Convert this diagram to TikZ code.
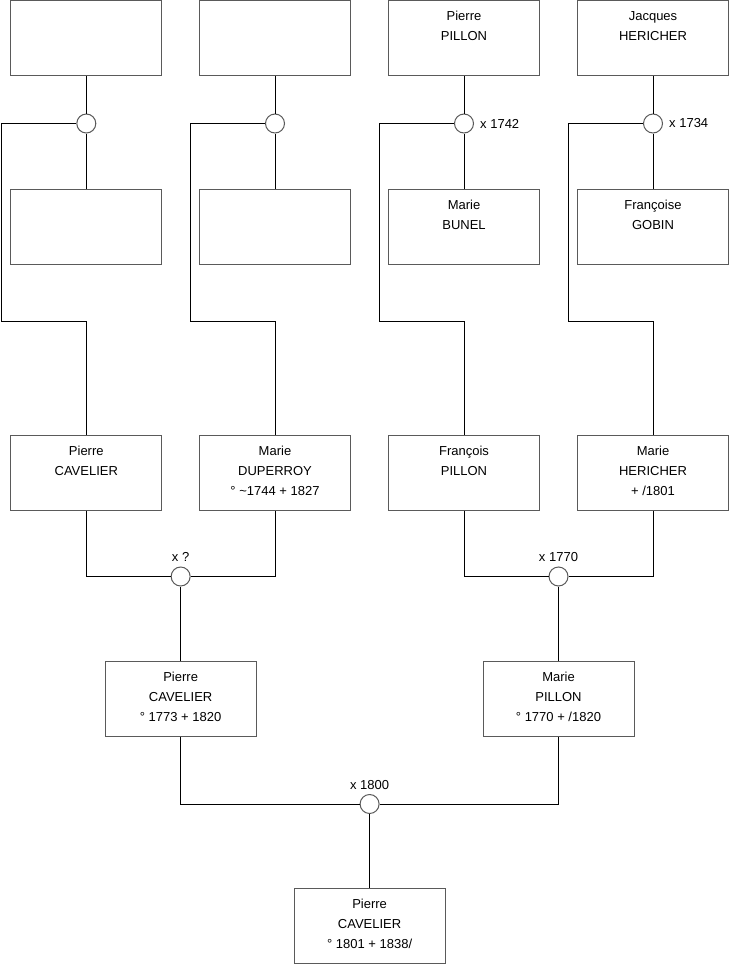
\documentclass[tikz,border=0pt]{standalone}
\usepackage{fontspec}
\setmainfont{Liberation Sans}
\definecolor{boxline}{RGB}{90,90,90}
\tikzset{
  person/.style={draw=boxline,line width=1pt,minimum width=151pt,minimum height=75pt,inner sep=0pt},
  wed/.style={circle,draw=boxline,line width=1pt,fill=white,minimum size=19pt,inner sep=0pt},
  who/.style={anchor=north,yshift=-11pt,align=center,inner sep=0pt,font=\fontsize{13}{20}\selectfont},
  when/.style={inner sep=0pt,font=\fontsize{13}{16}\selectfont},
  link/.style={line width=1pt}
}
\begin{document}
\begin{tikzpicture}[x=1pt,y=-1pt]
\useasboundingbox (0,0) rectangle (740,975);
% great-grandparents, their weddings and the lanes down to the grandparents
\foreach\i/\x in{1/86.3,2/275,3/464,4/653}{
  \node[person] (t\i) at (\x,38) {};
  \node[wed] (m\i) at (\x,123.5) {};
  \node[person] (s\i) at (\x,227) {};
  \node[person] (c\i) at (\x,472.5) {};
  \coordinate (k\i) at (\x-84.6,321.7);
}
\node[who] (t3x) at (t3.north) {Pierre\\PILLON};
\node[who] (t4x) at (t4.north) {Jacques\\HERICHER};
\node[who] (s3x) at (s3.north) {Marie\\BUNEL};
\node[who] (s4x) at (s4.north) {Françoise\\GOBIN};
\node[when,anchor=west] (m3x) at ([xshift=6pt]m3.east) {x 1742};
\node[when,anchor=west] (m4x) at ([xshift=6pt]m4.east) {x 1734};
% grandparents
\node[who] (c1x) at (c1.north) {Pierre\\CAVELIER};
\node[who] (c2x) at (c2.north) {Marie\\DUPERROY\\° \textasciitilde1744 + 1827};
\node[who] (c3x) at (c3.north) {François\\PILLON};
\node[who] (c4x) at (c4.north) {Marie\\HERICHER\\+ /1801};
\node[wed] (mc1) at (180.65,576.5) {};
\node[wed] (mc2) at (558.5,576.5) {};
\node[when,anchor=south] (mc1x) at ([yshift=4.5pt]mc1.north) {x ?};
\node[when,anchor=south] (mc2x) at ([yshift=4.5pt]mc2.north) {x 1770};
% parents
\node[person] (d1) at (180.65,698.5) {};
\node[person] (d2) at (558.5,698.5) {};
\node[who] (d1x) at (d1.north) {Pierre\\CAVELIER\\° 1773 + 1820};
\node[who] (d2x) at (d2.north) {Marie\\PILLON\\° 1770 + /1820};
\node[wed] (mb) at (369.6,804) {};
\node[when,anchor=south] (mbx) at ([yshift=4.5pt]mb.north) {x 1800};
% child
\node[person] (e) at (369.6,925.5) {};
\node[who] (ex) at (e.north) {Pierre\\CAVELIER\\° 1801 + 1838/};
% connectors
\foreach\i in{1,...,4}{
  \draw[link] (t\i) -- (m\i) -- (s\i);
  \draw[link] (m\i) -| (k\i) -| (c\i);
}
\draw[link] (c1) |- (mc1) -| (c2);
\draw[link] (c3) |- (mc2) -| (c4);
\draw[link] (mc1) -- (d1);
\draw[link] (mc2) -- (d2);
\draw[link] (d1) |- (mb) -| (d2);
\draw[link] (mb) -- (e);
\end{tikzpicture}
\end{document}
